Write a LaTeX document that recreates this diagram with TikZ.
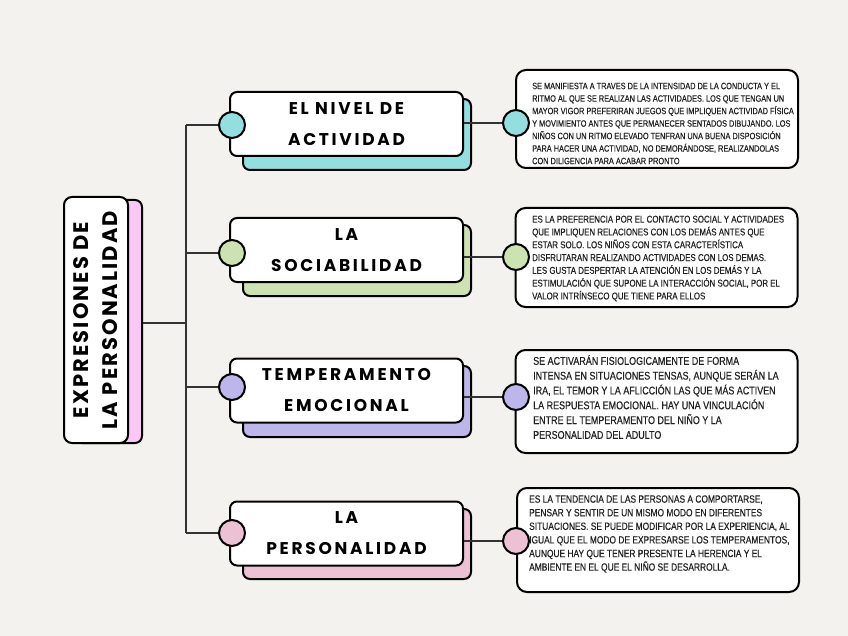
\documentclass[tikz,border=0pt]{standalone}
\usepackage{fontspec}
\setmainfont{Liberation Sans}
\newfontfamily\cond[FakeStretch=0.8,FakeBold=0.4]{Liberation Sans}
\newfontfamily\hand[LetterSpace=16]{Poppins}
\newfontfamily\handt[LetterSpace=10]{Poppins}
\definecolor{bgc}{HTML}{F4F2EE}
\definecolor{teal}{HTML}{93DEDF}
\definecolor{grn}{HTML}{CCE3B1}
\definecolor{purp}{HTML}{BCB6EA}
\definecolor{pnk}{HTML}{ECC1D4}
\definecolor{tpink}{HTML}{FBC7F7}
\definecolor{conn}{HTML}{333333}
\definecolor{txt}{HTML}{222222}
\tikzset{
  conline/.style={draw=conn, line width=1.6pt},
  outl/.style={draw=black, line width=2pt},
  midbox/.style={outl, fill=white, rounded corners=7pt, minimum width=233pt, minimum height=64pt, inner sep=0pt, align=center, font=\hand\bfseries\fontsize{17}{31}\selectfont},
  shade/.style={outl, rounded corners=7pt},
  dot/.style={circle, outl, minimum size=26pt, inner sep=0pt},
  descbox/.style={outl, fill=white, rounded corners=10pt, minimum width=282pt, inner sep=0pt},
  desctext/.style={anchor=west, align=left, inner sep=0pt, text=txt},
}
\begin{document}
\begin{tikzpicture}[x=1pt,y=-1pt]
\fill[bgc] (0,0) rectangle (848,636);
\useasboundingbox (0,0) rectangle (848,636);

% title
\node[shade, fill=tpink, minimum width=67pt, minimum height=243pt] (tp) at (108.5,321.5) {};
\node[outl, fill=white, rounded corners=8pt, rotate=90, minimum width=246pt, minimum height=64pt, inner sep=0pt, align=center, font=\handt\bfseries\fontsize{21}{29}\selectfont] (t) at (96,320) {EXPRESIONES DE\\LA PERSONALIDAD};

% shadows of middle boxes
\draw[shade, fill=teal] (243,99) rectangle (471,170);
\draw[shade, fill=grn] (243,225) rectangle (471,296);
\draw[shade, fill=purp] (243,366) rectangle (471,437);
\draw[shade, fill=pnk] (243,509) rectangle (471,579);

% middle boxes
\node[midbox] (m1) at (346.5,124) {EL NIVEL DE\\ACTIVIDAD};
\node[midbox] (m2) at (346.5,250) {LA\\SOCIABILIDAD};
\node[midbox] (m3) at (346.5,390.5) {TEMPERAMENTO\\EMOCIONAL};
\node[midbox] (m4) at (346.5,533.5) {LA\\PERSONALIDAD};

% left circles
\node[dot, fill=teal] (c1) at (232,125) {};
\node[dot, fill=grn] (c2) at (232,253) {};
\node[dot, fill=purp] (c3) at (232,387) {};
\node[dot, fill=pnk] (c4) at (232,533) {};

% description boxes
\node[descbox, minimum height=98pt] (d1) at (657,119) {};
\node[desctext, font=\cond\fontsize{9.2}{12.5}\selectfont] (d1t) at (532,123.5) {SE MANIFIESTA A TRAVES DE LA INTENSIDAD DE LA CONDUCTA Y EL\\RITMO AL QUE SE REALIZAN LAS ACTIVIDADES. LOS QUE TENGAN UN\\MAYOR VIGOR PREFERIRAN JUEGOS QUE IMPLIQUEN ACTIVIDAD FÍSICA\\Y MOVIMIENTO ANTES QUE PERMANECER SENTADOS DIBUJANDO. LOS\\NIÑOS CON UN RITMO ELEVADO TENFRAN UNA BUENA DISPOSICIÓN\\PARA HACER UNA ACTIVIDAD, NO DEMORÁNDOSE, REALIZANDOLAS\\CON DILIGENCIA PARA ACABAR PRONTO};
\node[descbox, minimum height=99pt] (d2) at (656.5,257.5) {};
\node[desctext, font=\cond\fontsize{9.9}{12.8}\selectfont] (d2t) at (532,258.5) {ES LA PREFERENCIA POR EL CONTACTO SOCIAL Y ACTIVIDADES\\QUE IMPLIQUEN RELACIONES CON LOS DEMÁS ANTES QUE\\ESTAR SOLO. LOS NIÑOS CON ESTA CARACTERÍSTICA\\DISFRUTARAN REALIZANDO ACTIVIDADES CON LOS DEMAS.\\LES GUSTA DESPERTAR LA ATENCIÓN EN LOS DEMÁS Y LA\\ESTIMULACIÓN QUE SUPONE LA INTERACCIÓN SOCIAL, POR EL\\VALOR INTRÍNSECO QUE TIENE PARA ELLOS};
\node[descbox, minimum height=103pt] (d3) at (656.5,401.5) {};
\node[desctext, font=\cond\fontsize{11.2}{14.8}\selectfont] (d3t) at (533,397) {SE ACTIVARÁN FISIOLOGICAMENTE DE FORMA\\INTENSA EN SITUACIONES TENSAS, AUNQUE SERÁN LA\\IRA, EL TEMOR Y LA AFLICCIÓN LAS QUE MÁS ACTIVEN\\LA RESPUESTA EMOCIONAL. HAY UNA VINCULACIÓN\\ENTRE EL TEMPERAMENTO DEL NIÑO Y LA\\PERSONALIDAD DEL ADULTO};
\node[descbox, minimum height=104pt] (d4) at (658,540) {};
\node[desctext, font=\cond\fontsize{10.5}{13.6}\selectfont] (d4t) at (529,534) {ES LA TENDENCIA DE LAS PERSONAS A COMPORTARSE,\\PENSAR Y SENTIR DE UN MISMO MODO EN DIFERENTES\\SITUACIONES. SE PUEDE MODIFICAR POR LA EXPERIENCIA, AL\\IGUAL QUE EL MODO DE EXPRESARSE LOS TEMPERAMENTOS,\\AUNQUE HAY QUE TENER PRESENTE LA HERENCIA Y EL\\AMBIENTE EN EL QUE EL NIÑO SE DESARROLLA.};

% right circles
\node[dot, fill=teal] (r1) at (516,123) {};
\node[dot, fill=grn] (r2) at (516,257) {};
\node[dot, fill=purp] (r3) at (516,397) {};
\node[dot, fill=pnk] (r4) at (516,541) {};

% connectors
\coordinate (j) at (186,323);
\coordinate (j1) at (186,125);
\coordinate (j2) at (186,253);
\coordinate (j3) at (186,387);
\coordinate (j4) at (186,533);
\draw[conline] (j -| tp.east) -- (j);
\draw[conline] (j1) -- (j4);
\draw[conline] (j1) -- (c1);
\draw[conline] (j2) -- (c2);
\draw[conline] (j3) -- (c3);
\draw[conline] (j4) -- (c4);
\draw[conline] (m1.east |- r1) -- (r1);
\draw[conline] (m2.east |- r2) -- (r2);
\draw[conline] (m3.east |- r3) -- (r3);
\draw[conline] (m4.east |- r4) -- (r4);
\end{tikzpicture}
\end{document}
